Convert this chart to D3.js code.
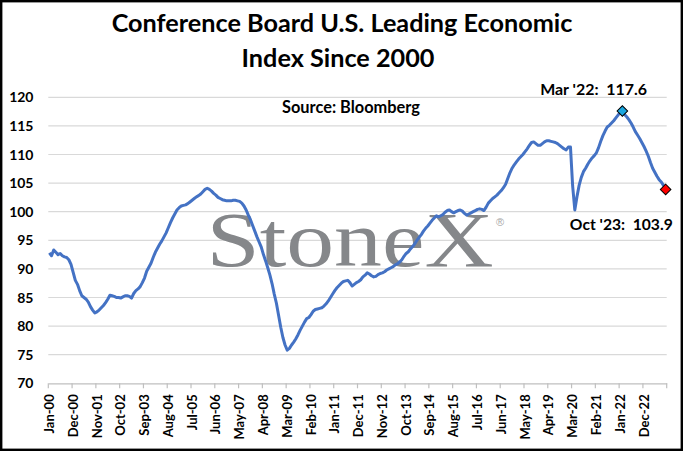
<!DOCTYPE html>
<html>
<head>
<meta charset="utf-8">
<script src="https://cdn.jsdelivr.net/npm/d3@7"></script>
<style>
  body { margin: 0; background: #fff; }
  text { font-family: Lato, "Open Sans", sans-serif; }
</style>
</head>
<body>
<script>
// LEI monthly values, one array per year
var lei2000 = [92.8, 92.3, 93.3, 92.9, 92.5, 92.7, 92.3, 92.1, 92.0, 91.6, 90.8, 89.4];
var lei2001 = [88.0, 87.3, 86.2, 85.3, 85.0, 84.7, 84.2, 83.4, 82.8, 82.3, 82.5, 82.8];
var lei2002 = [83.2, 83.6, 84.1, 84.7, 85.4, 85.3, 85.2, 85.0, 85.0, 84.9, 85.1, 85.3];
var lei2003 = [85.3, 85.2, 84.9, 85.7, 86.2, 86.5, 86.9, 87.6, 88.4, 89.6, 90.3, 91.0];
var lei2004 = [92.0, 92.9, 93.6, 94.3, 94.9, 95.6, 96.3, 97.2, 98.1, 98.9, 99.6, 100.3];
var lei2005 = [100.7, 101.0, 101.1, 101.2, 101.4, 101.7, 102.0, 102.3, 102.6, 102.8, 103.1, 103.5];
var lei2006 = [103.9, 104.1, 103.9, 103.6, 103.2, 102.9, 102.5, 102.3, 102.1, 102.0, 101.9, 101.9];
var lei2007 = [101.9, 102.0, 102.0, 101.9, 101.8, 101.5, 101.0, 100.3, 99.4, 98.6, 97.6, 96.6];
var lei2008 = [95.6, 94.7, 93.8, 92.5, 91.4, 90.2, 88.9, 87.4, 85.6, 84.0, 81.9, 79.8];
var lei2009 = [78.0, 76.7, 75.8, 76.1, 76.7, 77.2, 77.8, 78.5, 79.3, 80.0, 80.7, 81.3];
var lei2010 = [81.5, 82.0, 82.6, 82.9, 83.0, 83.1, 83.2, 83.5, 83.9, 84.4, 85.0, 85.6];
var lei2011 = [86.2, 86.7, 87.1, 87.5, 87.8, 87.9, 88.0, 87.6, 87.0, 87.3, 87.6, 87.8];
var lei2012 = [88.1, 88.6, 88.9, 89.3, 89.1, 88.8, 88.6, 88.7, 89.0, 89.2, 89.3, 89.5];
var lei2013 = [89.8, 90.0, 90.2, 90.4, 90.7, 90.9, 91.2, 91.6, 92.2, 92.7, 93.0, 93.5];
var lei2014 = [93.9, 94.4, 95.0, 95.5, 96.0, 96.6, 97.1, 97.5, 98.0, 98.5, 98.9, 99.3];
var lei2015 = [99.1, 99.3, 99.5, 99.9, 100.2, 100.3, 100.0, 99.8, 100.0, 100.2, 100.3, 100.1];
var lei2016 = [99.7, 99.4, 99.6, 99.8, 100.0, 100.2, 100.4, 100.5, 100.4, 100.2, 100.8, 101.5];
var lei2017 = [101.9, 102.3, 102.6, 102.9, 103.3, 103.7, 104.2, 104.8, 105.8, 106.8, 107.6, 108.2];
var lei2018 = [108.7, 109.2, 109.6, 110.0, 110.5, 111.0, 111.6, 112.1, 112.2, 111.9, 111.6, 111.6];
var lei2019 = [111.9, 112.2, 112.4, 112.4, 112.3, 112.2, 112.1, 111.9, 111.6, 111.3, 111.0, 110.8];
var lei2020 = [111.3, 111.3, 104.5, 100.3, 102.6, 104.6, 106.0, 107.0, 107.6, 108.3, 108.9, 109.4];
var lei2021 = [109.8, 110.3, 111.2, 112.3, 113.3, 114.1, 114.8, 115.1, 115.5, 115.9, 116.4, 116.9];
var lei2022 = [117.3, 117.6, 117.0, 116.6, 116.1, 115.5, 114.8, 114.0, 113.4, 112.8, 112.1, 111.4];
var lei2023 = [110.6, 109.7, 108.6, 107.6, 106.9, 106.2, 105.6, 105.2, 104.6, 103.9];

var tickLabels = ['Jan-00','Dec-00','Nov-01','Oct-02','Sep-03','Aug-04','Jul-05','Jun-06',
  'May-07','Apr-08','Mar-09','Feb-10','Jan-11','Dec-11','Nov-12','Oct-13','Sep-14','Aug-15',
  'Jul-16','Jun-17','May-18','Apr-19','Mar-20','Feb-21','Jan-22','Dec-22'];
var yTicks = [70, 75, 80, 85, 90, 95, 100, 105, 110, 115, 120];
var peakLabel = "Mar '22:  117.6";
var lastLabel = "Oct '23:  103.9";

var values = [].concat(lei2000, lei2001, lei2002, lei2003, lei2004, lei2005, lei2006, lei2007,
  lei2008, lei2009, lei2010, lei2011, lei2012, lei2013, lei2014, lei2015, lei2016, lei2017,
  lei2018, lei2019, lei2020, lei2021, lei2022, lei2023);
var fmt = d3.timeFormat('%b-%y');
var months = values.map(function(v, i){ return fmt(new Date(2000, i, 1)); });
var data = values.map(function(v, i){ return {m: months[i], v: v}; });

var width = 684, height = 452;
var svg = d3.select('body').append('svg')
  .attr('width', width)
  .attr('height', height);

svg.append('rect')
  .attr('width', width).attr('height', height)
  .attr('fill', '#fff');

var x = d3.scaleBand().domain(months).range([48.3, 666.7]).padding(0);
var y = d3.scaleLinear().domain([70, 120]).range([383.3, 97.3]);
var cx = function(m){ return x(m) + x.bandwidth() / 2; };

// gridlines
svg.append('g').selectAll('line')
  .data(yTicks.slice(1))
  .enter().append('line')
  .attr('x1', 48.3).attr('x2', 666.7)
  .attr('y1', function(d){ return y(d); })
  .attr('y2', function(d){ return y(d); })
  .attr('stroke', '#d9d9d9').attr('stroke-width', 1.2);

// watermark
var wm = svg.append('g');
wm.append('text')
  .text('StoneX')
  .attr('x', 206.5).attr('y', 265.5)
  .attr('textLength', 287).attr('lengthAdjust', 'spacingAndGlyphs')
  .style('font-family', '"Liberation Serif", "DejaVu Serif", serif')
  .style('font-size', '78px')
  .attr('fill', '#85878a');
wm.append('text')
  .text('\u00AE')
  .attr('x', 500).attr('y', 226)
  .attr('text-anchor', 'middle')
  .style('font-family', '"Liberation Sans", sans-serif')
  .style('font-size', '11px')
  .attr('fill', '#a6a6a6');

// y labels
svg.append('g').selectAll('text')
  .data(yTicks)
  .enter().append('text')
  .attr('x', 33.5)
  .attr('y', function(d){ return y(d); })
  .attr('dy', '0.36em')
  .attr('text-anchor', 'end')
  .style('font-size', '14px').style('font-weight', 'bold')
  .attr('fill', '#000')
  .text(function(d){ return d; });

// x axis: labels at category centres, tick marks at category boundaries
var xAxis = svg.append('g')
  .attr('transform', 'translate(0,' + y(70) + ')')
  .call(d3.axisBottom(x).tickValues(tickLabels).tickSize(0).tickPadding(0));
xAxis.select('.domain').attr('stroke', '#bfbfbf').attr('stroke-width', 1.2);
xAxis.selectAll('text')
  .attr('transform', 'rotate(-90)')
  .attr('x', -11).attr('y', 0).attr('dy', '0.35em')
  .attr('text-anchor', 'end')
  .style('font-family', 'Lato, sans-serif')
  .style('font-size', '13px').style('font-weight', 'bold')
  .attr('fill', '#000');
var bounds = tickLabels.map(function(m){ return x(m); }).concat([x.range()[1]]);
xAxis.selectAll('.bound')
  .data(bounds)
  .enter().append('line')
  .attr('class', 'bound')
  .attr('x1', function(d){ return d; }).attr('x2', function(d){ return d; })
  .attr('y1', 0).attr('y2', 5)
  .attr('stroke', '#bfbfbf').attr('stroke-width', 1.2);

// series line
var line = d3.line()
  .x(function(d){ return cx(d.m); })
  .y(function(d){ return y(d.v); });
svg.append('path')
  .datum(data)
  .attr('d', line)
  .attr('fill', 'none')
  .attr('stroke', '#4472c4')
  .attr('stroke-width', 3)
  .attr('stroke-linejoin', 'round');

// markers: peak and last point
var peak = data.reduce(function(a, b){ return b.v > a.v ? b : a; });
var last = data[data.length - 1];
var diamond = d3.symbol().type(d3.symbolSquare).size(56);
[[peak, '#1aa7e0'], [last, '#ff0000']].forEach(function(p){
  svg.append('path')
    .attr('d', diamond)
    .attr('transform', 'translate(' + cx(p[0].m) + ',' + y(p[0].v) + ') rotate(45)')
    .attr('fill', p[1])
    .attr('stroke', '#000').attr('stroke-width', 1);
});

function fit(t, w){
  var fs = parseFloat(t.style('font-size'));
  var len = t.node().getComputedTextLength();
  t.style('font-size', (fs * w / len) + 'px');
}

// title
var t1 = svg.append('text').text('Conference Board U.S. Leading Economic')
  .attr('x', 342).attr('y', 31.5).attr('text-anchor', 'middle')
  .style('font-size', '24px').style('font-weight', 'bold').attr('fill', '#000');
fit(t1, 461);
svg.append('text').text('Index Since 2000')
  .attr('x', 338).attr('y', 66.5).attr('text-anchor', 'middle')
  .style('font-size', t1.style('font-size')).style('font-weight', 'bold').attr('fill', '#000');

var src = svg.append('text').text('Source: Bloomberg')
  .attr('x', 351).attr('y', 113).attr('text-anchor', 'middle')
  .style('font-size', '14px').style('font-weight', 'bold').attr('fill', '#000');
fit(src, 138);

var a1 = svg.append('text').text(peakLabel)
  .attr('x', 593.6).attr('y', 95).attr('text-anchor', 'middle')
  .style('white-space', 'pre')
  .style('font-size', '13px').style('font-weight', 'bold').attr('fill', '#000');
fit(a1, 107);
var a2 = svg.append('text').text(lastLabel)
  .attr('x', 621.3).attr('y', 230).attr('text-anchor', 'middle')
  .style('white-space', 'pre')
  .style('font-size', '13px').style('font-weight', 'bold').attr('fill', '#000');
fit(a2, 103);

// frame
svg.append('rect')
  .attr('x', 1.2).attr('y', 1.2)
  .attr('width', 680.6).attr('height', 448.6)
  .attr('fill', 'none')
  .attr('stroke', '#000').attr('stroke-width', 2.4);
</script>
</body>
</html>
